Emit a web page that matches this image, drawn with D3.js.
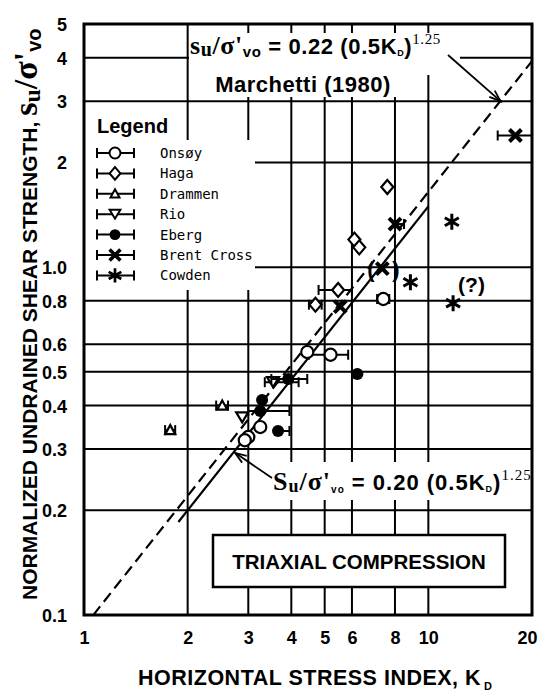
<!DOCTYPE html>
<meta charset="utf-8">
<script src="https://d3js.org/d3.v7.min.js"></script>
<style>
  body { margin: 0; background: #fff; }
  text { font-family: "Liberation Sans", Arial, sans-serif; font-weight: bold; fill: #000; }
  .serif { font-family: "Liberation Serif", "Times New Roman", serif; }
  .mono { font-family: "DejaVu Sans Mono", monospace; font-weight: normal; }
</style>
<div id="chart"></div>
<script>

// ---- data ----
var xTicks = [1, 2, 3, 4, 5, 6, 8, 10, 20]
var yTicks = [0.1, 0.2, 0.3, 0.4, 0.5, 0.6, 0.8, 1, 2, 3, 4, 5]
var yTickLabels = ["0.1", "0.2", "0.3", "0.4", "0.5", "0.6", "0.8", "1.0", "2", "3", "4", "5"]
var xGrid = [2, 3, 4, 5, 6, 8, 10]
var yGrid = [0.2, 0.3, 0.4, 0.5, 0.6, 0.8, 1, 2, 3, 4]

var siteNames = ["Onsøy", "Haga", "Drammen", "Rio", "Eberg", "Brent Cross", "Cowden"]
var siteSymbols = ["circle", "diamond", "triangle", "triangleDown", "dot", "cross", "star"]

// K_D, su/s'v0, error bar low / high on K_D (null = no bar)
var onsoyK   = [5.2, 4.45, 7.4, 3.25, 3.0, 2.93]
var onsoySu  = [0.56, 0.57, 0.81, 0.347, 0.325, 0.318]
var onsoyLo  = [4.5, null, 7.1, null, null, null]
var onsoyHi  = [5.85, null, 7.7, null, null, null]

var hagaK    = [7.6, 6.1, 6.3, 5.47, 4.7]
var hagaSu   = [1.7, 1.2, 1.14, 0.86, 0.78]
var hagaLo   = [null, null, null, 4.8, 4.5]
var hagaHi   = [null, null, null, 6.0, 4.9]

var drammenK  = [1.78, 2.52]
var drammenSu = [0.34, 0.40]
var drammenLo = [1.72, 2.42]
var drammenHi = [1.84, 2.62]

var rioK   = [2.88, 3.54]
var rioSu  = [0.37, 0.467]
var rioLo  = [null, 3.35]
var rioHi  = [null, 4.2]

var ebergK   = [3.29, 3.25, 3.66, 3.92, 6.22]
var ebergSu  = [0.415, 0.386, 0.338, 0.477, 0.493]
var ebergLo  = [null, 3.0, null, 3.5, null]
var ebergHi  = [null, 3.95, 3.95, 4.45, null]

var brentK   = [17.9, 8.0, 7.35, 5.55]
var brentSu  = [2.39, 1.33, 0.99, 0.77]
var brentLo  = [15.9, null, null, null]
var brentHi  = [20, 8.5, null, null]

var cowdenK  = [11.7, 8.87, 11.8]
var cowdenSu = [1.35, 0.905, 0.788]

// Marchetti (1980) and proposed lines: su/s'v0 = a (0.5 K_D)^1.25
var lineCoef = [0.22, 0.20]
var lineExp = 1.25
var lineFrom = [1.064, 1.88]
var lineTo = [20, 10]

// ---- drawing ----
var width = 538, height = 693

var svg = d3.select("#chart").append("svg")
  .attr("width", width)
  .attr("height", height)

var x = d3.scaleLog().domain([1, 20]).range([84, 532])
var y = d3.scaleLog().domain([0.1, 5]).range([615, 24])

// grid
svg.selectAll(".vgrid").data(xGrid).enter().append("line")
  .attr("x1", d => x(d)).attr("x2", d => x(d))
  .attr("y1", y(5)).attr("y2", y(0.1))
  .attr("stroke", "#000").attr("stroke-width", 2)

svg.selectAll(".hgrid").data(yGrid).enter().append("line")
  .attr("x1", x(1)).attr("x2", x(20))
  .attr("y1", d => y(d)).attr("y2", d => y(d))
  .attr("stroke", "#000").attr("stroke-width", 2)

// white areas that interrupt the grid (legend and labels)
function blank(x0, y0, x1, y1) {
  svg.append("rect").attr("x", x0).attr("y", y0)
    .attr("width", x1 - x0).attr("height", y1 - y0).attr("fill", "#fff")
}
blank(85, 140, 255, 290)
blank(189, 33, 460, 75)
blank(189, 75, 420, 97)
blank(268, 462, 531, 500)

// model lines
var line = d3.line().x(d => x(d[0])).y(d => y(d[1]))
lineCoef.forEach(function(a, i) {
  var k0 = lineFrom[i], k1 = lineTo[i]
  var pts = [[k0, a * Math.pow(0.5 * k0, lineExp)], [k1, a * Math.pow(0.5 * k1, lineExp)]]
  svg.append("path")
    .attr("d", line(pts))
    .attr("fill", "none")
    .attr("stroke", "#000")
    .attr("stroke-width", 2.2)
    .attr("stroke-dasharray", i == 0 ? "11,6" : null)
})

// frame
svg.append("rect")
  .attr("x", x(1)).attr("y", y(5))
  .attr("width", x(20) - x(1)).attr("height", y(0.1) - y(5))
  .attr("fill", "none").attr("stroke", "#000").attr("stroke-width", 3)

// axes labels
var xAxis = d3.axisBottom(x).tickValues(xTicks).tickFormat(d3.format("d")).tickSize(0).tickPadding(0)
var gx = svg.append("g").attr("transform", "translate(0,631)").call(xAxis)
gx.select(".domain").remove()
gx.selectAll("text").attr("font-size", 18).attr("font-family", null).attr("dy", "0.71em")
gx.selectAll("text").filter(d => d == 20).attr("text-anchor", "end").attr("dx", 5)

var yAxis = d3.axisLeft(y).tickValues(yTicks).tickFormat((d, i) => yTickLabels[i]).tickSize(0).tickPadding(0)
var gy = svg.append("g").attr("transform", "translate(67,0)").call(yAxis)
gy.select(".domain").remove()
gy.selectAll("text").attr("font-size", 18).attr("font-family", null).attr("dy", "0.36em")

// axis titles
var xt = svg.append("text").attr("x", 138).attr("y", 685).attr("font-size", 21.5).attr("letter-spacing", 0.5)
xt.append("tspan").text("HORIZONTAL STRESS INDEX, K")
xt.append("tspan").attr("font-size", 11).attr("dx", 3).attr("dy", 5).text("D")

var yt = svg.append("text").attr("transform", "translate(37,600) rotate(-90)").attr("font-size", 21)
yt.append("tspan").text("NORMALIZED UNDRAINED SHEAR STRENGTH, ")
yt.append("tspan").attr("class", "serif").attr("font-size", 34).text("s")
yt.append("tspan").attr("class", "serif").attr("font-size", 24).attr("dy", 3).text("u")
yt.append("tspan").attr("class", "serif").attr("font-size", 34).attr("dy", -3).text("/σ'")
yt.append("tspan").attr("font-size", 20).attr("dy", 4).text("vo")

// symbols
function symbolPath(type) {
  if (type == "circle" || type == "dot") return d3.symbol(d3.symbolCircle, 115)()
  if (type == "diamond") return "M0,-7L6,0L0,7L-6,0Z"
  if (type == "triangle") return "M0,-5L5,4L-5,4Z"
  if (type == "triangleDown") return "M-6,-5L6,-5L0,5Z"
  if (type == "cross") return "M-6,-6L6,6M6,-6L-6,6"
  if (type == "star") return "M0,-8L0,8M-7,-4L7,4M-7,4L7,-4"
}

function drawMark(g, type) {
  var p = g.append("path").attr("d", symbolPath(type))
  if (type == "dot") p.attr("fill", "#000")
  else if (type == "cross") p.attr("fill", "none").attr("stroke", "#000").attr("stroke-width", 4)
  else if (type == "star") p.attr("fill", "none").attr("stroke", "#000").attr("stroke-width", 3)
  else p.attr("fill", "#fff").attr("stroke", "#000").attr("stroke-width", 2.2)
}

function errBar(g, xa, xb, yy) {
  g.append("line").attr("x1", xa).attr("x2", xb).attr("y1", yy).attr("y2", yy)
    .attr("stroke", "#000").attr("stroke-width", 2)
  ;[xa, xb].forEach(function(xx) {
    g.append("line").attr("x1", xx).attr("x2", xx).attr("y1", yy - 5).attr("y2", yy + 5)
      .attr("stroke", "#000").attr("stroke-width", 2)
  })
}

var series = [
  [onsoyK, onsoySu, onsoyLo, onsoyHi, "circle"],
  [hagaK, hagaSu, hagaLo, hagaHi, "diamond"],
  [drammenK, drammenSu, drammenLo, drammenHi, "triangle"],
  [rioK, rioSu, rioLo, rioHi, "triangleDown"],
  [ebergK, ebergSu, ebergLo, ebergHi, "dot"],
  [brentK, brentSu, brentLo, brentHi, "cross"],
  [cowdenK, cowdenSu, null, null, "star"]
]

var gm = svg.append("g")
series.forEach(function(s) {
  s[0].forEach(function(k, i) {
    var lo = s[2] ? s[2][i] : null, hi = s[3] ? s[3][i] : null
    if (lo != null || hi != null) errBar(gm, x(lo != null ? lo : k), x(hi != null ? hi : k), y(s[1][i]))
    var g = gm.append("g").attr("transform", "translate(" + x(k) + "," + y(s[1][i]) + ")")
    drawMark(g, s[4])
  })
})

// parentheses and question mark
svg.append("text").attr("x", x(7.35) - 15).attr("y", y(0.99) + 8).attr("font-size", 22)
  .attr("font-weight", "normal").text("(")
svg.append("text").attr("x", x(7.35) + 10).attr("y", y(0.99) + 8).attr("font-size", 22)
  .attr("font-weight", "normal").text(")")
svg.append("text").attr("x", x(11.8) + 5).attr("y", y(0.788) - 11).attr("font-size", 21).text("(?)")

// legend
svg.append("text").attr("x", 97).attr("y", 133).attr("font-size", 20).text("Legend")
var lg = svg.append("g")
siteNames.forEach(function(name, i) {
  var yy = 153 + i * 20.4
  errBar(lg, 97, 134, yy)
  var g = lg.append("g").attr("transform", "translate(115," + yy + ") scale(0.9)")
  drawMark(g, siteSymbols[i])
  lg.append("text").attr("class", "mono").attr("x", 160).attr("y", yy + 5).attr("font-size", 14).text(name)
})

// equation labels
var eq1 = svg.append("text").attr("x", 190).attr("y", 54).attr("font-size", 22).attr("letter-spacing", 0.6)
eq1.append("tspan").attr("class", "serif").attr("font-size", 26).text("s")
eq1.append("tspan").attr("class", "serif").attr("font-size", 20).attr("dy", 2).text("u")
eq1.append("tspan").attr("class", "serif").attr("font-size", 26).attr("dy", -2).text("/σ'")
eq1.append("tspan").attr("font-size", 15).attr("dy", 3).text("vo")
eq1.append("tspan").attr("dy", -3).text(" = 0.22 (0.5K")
eq1.append("tspan").attr("font-size", 9).attr("dy", 2).text("D")
eq1.append("tspan").attr("dy", -2).text(")")
eq1.append("tspan").attr("class", "serif").attr("font-weight", "normal").attr("font-size", 15).attr("dy", -10).text("1.25")
svg.append("text").attr("x", 303).attr("y", 92).attr("font-size", 22).attr("letter-spacing", 0.5)
  .attr("text-anchor", "middle").text("Marchetti (1980)")

var eq2 = svg.append("text").attr("x", 273).attr("y", 490).attr("font-size", 22).attr("letter-spacing", 1)
eq2.append("tspan").attr("class", "serif").attr("font-size", 26).text("S")
eq2.append("tspan").attr("class", "serif").attr("font-size", 18).attr("dy", 2).text("u")
eq2.append("tspan").attr("class", "serif").attr("font-size", 26).attr("dy", -2).text("/σ'")
eq2.append("tspan").attr("font-size", 10).attr("dy", 3).text("vo")
eq2.append("tspan").attr("dy", -3).text("  = 0.20 (0.5K")
eq2.append("tspan").attr("font-size", 9).attr("dy", 2).text("D")
eq2.append("tspan").attr("dy", -2).text(")")
eq2.append("tspan").attr("class", "serif").attr("font-weight", "normal").attr("font-size", 15).attr("dy", -10).text("1.25")

// arrows
function arrow(x0, y0, x1, y1) {
  svg.append("line").attr("x1", x0).attr("y1", y0).attr("x2", x1).attr("y2", y1)
    .attr("stroke", "#000").attr("stroke-width", 1.8)
  var a = Math.atan2(y1 - y0, x1 - x0), L = 12, w = 0.35
  svg.append("path")
    .attr("d", "M" + (x1 - L * Math.cos(a - w)) + "," + (y1 - L * Math.sin(a - w)) +
      "L" + x1 + "," + y1 + "L" + (x1 - L * Math.cos(a + w)) + "," + (y1 - L * Math.sin(a + w)))
    .attr("fill", "none").attr("stroke", "#000").attr("stroke-width", 1.8)
}
arrow(448, 55, x(16.2), y(3))
arrow(272, 478, x(2.71) + 2, y(0.2925))

// triaxial compression box
svg.append("rect").attr("x", 213).attr("y", 535).attr("width", 292).attr("height", 52)
  .attr("fill", "#fff").attr("stroke", "#000").attr("stroke-width", 2.5)
svg.append("text").attr("x", 359).attr("y", 569).attr("text-anchor", "middle").attr("font-size", 20.5)
  .text("TRIAXIAL COMPRESSION")

</script>
